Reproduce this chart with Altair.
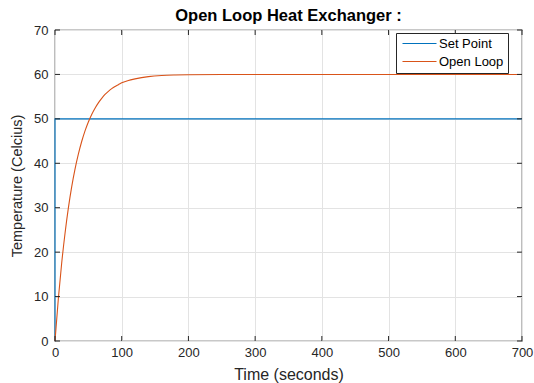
import altair as alt
import pandas as pd

# Set point (step at t=0)
sp_time = [0, 0, 700]
sp_temp = [0, 50, 50]

# Open loop response
ol_time = [0, 5, 10, 15, 20, 25, 30, 35, 40, 45, 50, 55, 60, 65, 70, 75, 80, 85, 90, 95,
           100, 110, 120, 140, 160, 180, 200, 250, 300, 400, 500, 600, 700]
ol_temp = [0, 9.5, 17.5, 24.2, 29.9, 34.7, 38.7, 42.05, 44.9, 47.3, 49.3, 51.0, 52.4, 53.6,
           54.6, 55.5, 56.2, 56.8, 57.3, 57.7, 58.1, 58.65, 59.0, 59.5, 59.76, 59.88, 59.94,
           59.99, 60, 60, 60, 60, 60]

x_ticks = [0, 100, 200, 300, 400, 500, 600, 700]
y_ticks = [0, 10, 20, 30, 40, 50, 60, 70]

series_names = ["Set Point", "Open Loop"]
series_colors = ["#0072BD", "#D95319"]

rows = []
for i, (t, v) in enumerate(zip(sp_time, sp_temp)):
    rows.append({"time": t, "temp": v, "series": "Set Point", "idx": i})
for i, (t, v) in enumerate(zip(ol_time, ol_temp)):
    rows.append({"time": t, "temp": v, "series": "Open Loop", "idx": i})
df = pd.DataFrame(rows)

xdf = pd.DataFrame({"t": x_ticks})
ydf = pd.DataFrame({"v": y_ticks})

FONT = "Liberation Sans"
AX = "#262626"

xscale = alt.Scale(domain=[0, 700], nice=False, zero=False)
yscale = alt.Scale(domain=[0, 70], nice=False, zero=False)

lines = alt.Chart(df).mark_line(strokeWidth=1.1, interpolate="monotone").encode(
    x=alt.X("time:Q", scale=xscale,
            axis=alt.Axis(values=x_ticks, title="Time (seconds)", grid=True,
                          gridColor="#e3e3e3", domain=False, ticks=False, labelFlush=False,
                          labelPadding=5, titlePadding=7, titleFontSize=16)),
    y=alt.Y("temp:Q", scale=yscale,
            axis=alt.Axis(values=y_ticks, title="Temperature (Celcius)", grid=True,
                          gridColor="#e3e3e3", domain=False, ticks=False, labelFlush=False,
                          labelPadding=7, titlePadding=9, titleFontSize=14.5)),
    color=alt.Color("series:N",
                    scale=alt.Scale(domain=series_names, range=series_colors),
                    sort=series_names,
                    legend=alt.Legend(title=None, orient="none", legendX=341, legendY=3,
                                      symbolType="M-3.4,0H3.4", symbolSize=100,
                                      symbolStrokeWidth=1.2, symbolOffset=13,
                                      labelFontSize=13, labelOffset=13,
                                      labelFont=FONT, labelColor="#000000",
                                      fillColor="#ffffff", strokeColor="#262626",
                                      padding=4, rowPadding=4)),
    order=alt.Order("idx:Q"),
)

xt_bot = alt.Chart(xdf).mark_rule(color=AX, strokeWidth=1).encode(
    x=alt.X("t:Q", scale=xscale), y=alt.value(311), y2=alt.value(306))
xt_top = alt.Chart(xdf).mark_rule(color=AX, strokeWidth=1).encode(
    x=alt.X("t:Q", scale=xscale), y=alt.value(0), y2=alt.value(5))
yt_left = alt.Chart(ydf).mark_rule(color=AX, strokeWidth=1).encode(
    y=alt.Y("v:Q", scale=yscale), x=alt.value(0), x2=alt.value(5))
yt_right = alt.Chart(ydf).mark_rule(color=AX, strokeWidth=1).encode(
    y=alt.Y("v:Q", scale=yscale), x=alt.value(467), x2=alt.value(462))

chart = alt.layer(lines, xt_bot, xt_top, yt_left, yt_right).properties(
    width=467, height=311,
    title=alt.TitleParams("Open Loop Heat Exchanger :", fontSize=16.5, fontWeight="bold",
                          font=FONT, color="#000000", offset=0),
    autosize=alt.AutoSizeParams(type="none"),
    padding={"left": 55, "top": 30, "right": 12, "bottom": 42},
    background="#ffffff",
).configure_view(stroke=AX, strokeWidth=1.2).configure_axis(
    labelFont=FONT, labelFontSize=13, labelColor=AX,
    titleFont=FONT, titleColor=AX, titleFontWeight="normal",
)

chart.save("out.html", embed_options={"renderer": "svg", "actions": False})
